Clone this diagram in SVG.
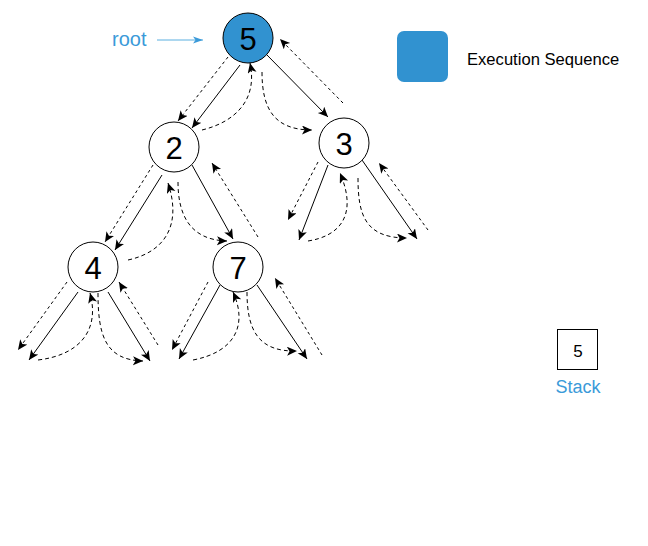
<svg xmlns="http://www.w3.org/2000/svg" width="648" height="546" viewBox="0 0 648 546">
<defs>
<marker id="ah" markerUnits="userSpaceOnUse" markerWidth="12" markerHeight="10" refX="10" refY="4.5" orient="auto">
<path d="M0,0 L10,4.5 L0,9 L2.5,4.5 z" fill="#000"/>
</marker>
<marker id="ahb" markerUnits="userSpaceOnUse" markerWidth="12" markerHeight="10" refX="10" refY="4" orient="auto">
<path d="M0,0.5 L10,4 L0,7.5 L2.5,4 z" fill="#3a9ad9"/>
</marker>
<style>
.node circle{fill:#fff;stroke:#000;stroke-width:1}
.node text{font-family:"Liberation Sans",Arial,sans-serif;font-size:31px;text-anchor:middle;fill:#000}
.solid{fill:none;stroke:#000;stroke-width:1;marker-end:url(#ah)}
.dash{fill:none;stroke:#000;stroke-width:1;stroke-dasharray:3 3;marker-end:url(#ah)}
.curve{fill:none;stroke:#000;stroke-width:1;stroke-dasharray:4 3;marker-end:url(#ah)}
.lbl{font-family:"Liberation Sans",Arial,sans-serif}
</style>
</defs>
<rect width="648" height="546" fill="#fff"/>

<g id="connectors">
<!-- 5 -> 2 -->
<path class="dash" d="M228,57 L178,121"/>
<path class="solid" d="M240,65 L192,128"/>
<path class="curve" d="M202,130 C235,122 258,100 250,63"/>
<!-- 5 -> 3 -->
<path class="curve" d="M262,72 C262,110 275,130 312,130"/>
<path class="solid" d="M267,55 L328,117"/>
<path class="dash" d="M343,103 L280,39"/>
<!-- 2 -> 4 -->
<path class="dash" d="M153,165 L105,242"/>
<path class="solid" d="M162,175 L115,250"/>
<path class="curve" d="M128,260 C165,252 182,225 168,183"/>
<!-- 2 -> 7 -->
<path class="curve" d="M178,182 C178,215 190,240 227,241"/>
<path class="solid" d="M192,165 L233,239"/>
<path class="dash" d="M258,237 L212,163"/>
<!-- 3 children -->
<path class="dash" d="M318,162 L288,220"/>
<path class="solid" d="M328,165 L299,240"/>
<path class="curve" d="M308,241 C340,236 358,215 340,173"/>
<path class="curve" d="M358,178 C358,215 365,238 407,238"/>
<path class="solid" d="M362,160 L417,239"/>
<path class="dash" d="M428,230 L379,163"/>
<!-- 4 children -->
<path class="dash" d="M67,282 L18,350"/>
<path class="solid" d="M78,292 L29,360"/>
<path class="curve" d="M38,360 C80,355 100,330 90,293"/>
<path class="curve" d="M98,293 C98,335 105,360 143,361"/>
<path class="solid" d="M108,292 L150,361"/>
<path class="dash" d="M158,345 L119,282"/>
<!-- 7 children -->
<path class="dash" d="M208,282 L172,350"/>
<path class="solid" d="M220,285 L179,359"/>
<path class="curve" d="M193,360 C235,352 248,325 233,292"/>
<path class="curve" d="M247,292 C247,330 258,352 297,351"/>
<path class="solid" d="M257,285 L307,359"/>
<path class="dash" d="M322,355 L275,278"/>
<!-- root pointer -->
<path d="M157,40 L203,40" fill="none" stroke="#5aafe0" stroke-width="1" marker-end="url(#ahb)"/>
</g>

<g id="node5" class="node">
<circle cx="248" cy="38" r="25" style="fill:#3192d0"/>
<text x="248" y="50">5</text>
</g>
<g id="node2" class="node">
<circle cx="174" cy="147" r="25"/>
<text x="174" y="159">2</text>
</g>
<g id="node3" class="node">
<circle cx="344" cy="143" r="25"/>
<text x="344" y="155">3</text>
</g>
<g id="node4" class="node">
<circle cx="93" cy="267" r="25"/>
<text x="93" y="279">4</text>
</g>
<g id="node7" class="node">
<circle cx="238" cy="267" r="25"/>
<text x="238" y="279">7</text>
</g>

<g id="root-label">
<text class="lbl" x="112" y="46" font-size="20" fill="#3a9ad9">root</text>
</g>

<g id="legend">
<rect x="397" y="31" width="51" height="51" rx="7" fill="#3192d0"/>
<text class="lbl" x="467" y="65" font-size="16.6" fill="#000">Execution Sequence</text>
</g>

<g id="stack">
<rect x="557.5" y="329.5" width="40" height="40" fill="#fff" stroke="#000" stroke-width="1"/>
<text class="lbl" x="578" y="357" font-size="17" text-anchor="middle" fill="#000">5</text>
<text class="lbl" x="578" y="393" font-size="18" text-anchor="middle" fill="#3a9ad9">Stack</text>
</g>
</svg>
